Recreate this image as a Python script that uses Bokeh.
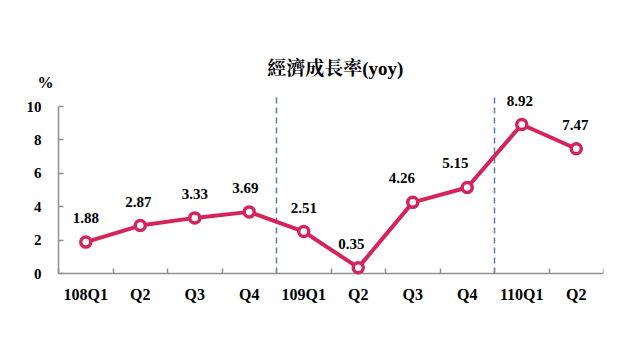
from bokeh.plotting import figure
from bokeh.models import Range1d, FixedTicker, Label, ColumnDataSource
from bokeh.core.properties import value
from bokeh.embed import file_html
from bokeh.resources import INLINE

# ---- data ----
quarters = ["108Q1", "Q2", "Q3", "Q4", "109Q1", "Q2", "Q3", "Q4", "110Q1", "Q2"]
growth = [1.88, 2.87, 3.33, 3.69, 2.51, 0.35, 4.26, 5.15, 8.92, 7.47]
labels = ["1.88", "2.87", "3.33", "3.69", "2.51", "0.35", "4.26", "5.15", "8.92", "7.47"]
y_ticks = [0, 2, 4, 6, 8, 10]
title_text = "經濟成長率(yoy)"
unit_text = "%"

# style: small horizontal nudges of the value labels
label_dx = [0, -2, 0, -4, 0, -7, -11, -12, -2, -1]

RED = "#d4245a"
GRAY = "#8f8f8f"
DASH = "#5b7ca6"
SERIF = "Liberation Serif"
TITLE_FONT = "'Liberation Serif', 'Noto Serif CJK TC', 'Noto Sans CJK TC'"

# pixel geometry of the plot area (x: 54.5 px per quarter, y: 16.7 px per unit)
W, H = 632, 352
LEFT, RIGHT, TOP, BOTTOM = 8, 29, 0, 40
X0_PX, PXX = 58, 54.5
Y0_PX, PXY = 273, 16.7
x_start = -(X0_PX - LEFT) / PXX
x_end = x_start + (W - LEFT - RIGHT) / PXX
y_end = (Y0_PX - TOP) / PXY
y_start = y_end - (H - TOP - BOTTOM) / PXY

n = len(quarters)
xs = [i + 0.5 for i in range(n)]
src = ColumnDataSource(dict(x=xs, y=growth, lab=labels, dx=label_dx))

p = figure(width=W, height=H, output_backend="svg", toolbar_location=None,
           x_range=Range1d(x_start, x_end), y_range=Range1d(y_start, y_end),
           min_border_left=LEFT, min_border_right=RIGHT, min_border_top=TOP,
           min_border_bottom=BOTTOM)
p.outline_line_color = None
p.grid.visible = False
p.background_fill_color = "white"
p.border_fill_color = "white"

# x axis at y=0: labels at centres, ticks at boundaries
xa = p.xaxis[0]
xa.fixed_location = 0
xa.ticker = FixedTicker(ticks=xs, minor_ticks=list(range(n + 1)))
xa.major_label_overrides = {x: q for x, q in zip(xs, quarters)}
xa.major_tick_in = 0
xa.major_tick_out = 0
xa.minor_tick_in = 5
xa.minor_tick_out = 0
xa.minor_tick_line_color = GRAY
xa.minor_tick_line_width = 1.5
xa.axis_line_color = None
xa.major_label_standoff = 12
xa.major_label_text_font = SERIF
xa.major_label_text_font_style = "bold"
xa.major_label_text_font_size = "16px"
xa.major_label_text_color = "black"

# y axis at x=0
ya = p.yaxis[0]
ya.fixed_location = 0
ya.ticker = FixedTicker(ticks=y_ticks)
ya.axis_line_color = None
ya.major_tick_in = 5
ya.major_tick_out = 0
ya.minor_tick_line_color = None
ya.major_tick_line_color = GRAY
ya.major_tick_line_width = 1.5
ya.major_label_standoff = 17
ya.major_label_text_font = SERIF
ya.major_label_text_font_style = "bold"
ya.major_label_text_font_size = "15px"
ya.major_label_text_color = "black"

# axis lines limited to the data extent
p.segment(x0=[0, 0], y0=[y_ticks[0], y_ticks[0]], x1=[0, n], y1=[y_ticks[-1], y_ticks[0]],
          line_color=GRAY, line_width=1.5)

# year separators
bounds = [i for i, q in enumerate(quarters) if len(q) > 2 and i > 0]
p.segment(x0=bounds, y0=[0] * len(bounds), x1=bounds, y1=[10.66] * len(bounds),
          line_color=DASH, line_width=1.5, line_dash="6 4")

p.line("x", "y", source=src, line_color=RED, line_width=4)
p.scatter("x", "y", source=src, marker="circle", size=10, fill_color="white",
          line_color=RED, line_width=3.5)
p.text("x", "y", text="lab", source=src, x_offset="dx", y_offset=-24,
       text_align="center", text_baseline="middle", text_font=value(SERIF),
       text_font_style="bold", text_font_size="15px", text_color="black")

p.add_layout(Label(x=5.08, y=12.28, text=title_text, text_align="center",
                   text_baseline="middle", text_font=TITLE_FONT,
                   text_font_style="bold", text_font_size="19px", text_color="black"))
p.add_layout(Label(x=-0.24, y=11.44, text=unit_text, text_align="center",
                   text_baseline="middle", text_font=SERIF,
                   text_font_style="bold", text_font_size="16px", text_color="black"))

open("out.html", "w").write(file_html(p, INLINE))
